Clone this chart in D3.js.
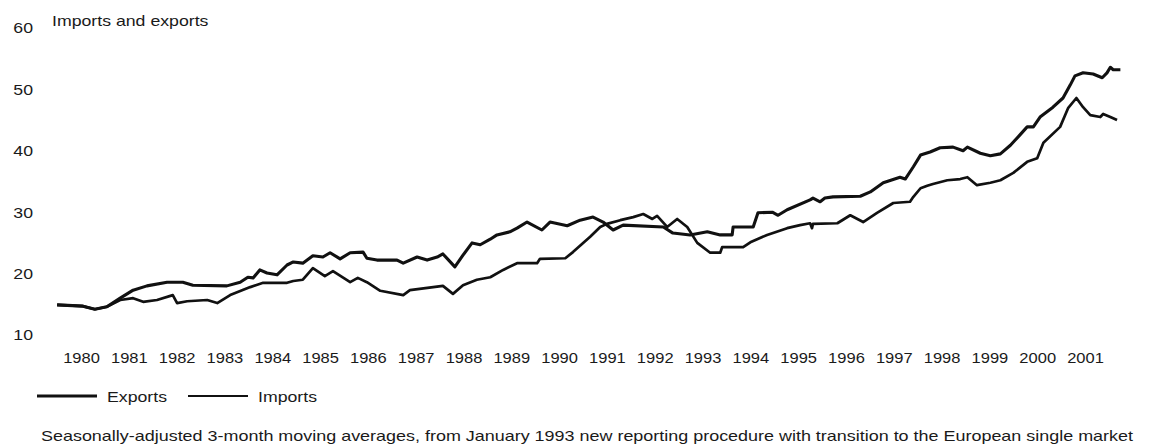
<!DOCTYPE html>
<html>
<head>
<meta charset="utf-8">
<script src="https://cdn.jsdelivr.net/npm/d3@7"></script>
<style>
	html, body { margin: 0; padding: 0; background: #fff; }
	svg { display: block; }
	text { font-family: 'Liberation Sans', Arial, sans-serif; fill: #1a1a1a; }
</style>
</head>
<body>
<svg id="chart" width="1151" height="445"></svg>
<script>
// [decimal year, value]
const exportsData = [
	[1979.50, 14.9], [1980.04, 14.7], [1980.29, 14.2], [1980.54, 14.6], [1980.82, 16.0], [1981.09, 17.3],
	[1981.38, 18.0], [1981.80, 18.6], [1982.13, 18.6], [1982.34, 18.1], [1983.05, 18.0], [1983.33, 18.6],
	[1983.49, 19.4], [1983.60, 19.3], [1983.74, 20.6], [1983.89, 20.1], [1984.10, 19.8], [1984.31, 21.4],
	[1984.44, 21.9], [1984.64, 21.7], [1984.85, 22.9], [1985.06, 22.7], [1985.21, 23.4], [1985.42, 22.4],
	[1985.63, 23.4], [1985.90, 23.5], [1985.98, 22.5], [1986.19, 22.2], [1986.61, 22.2], [1986.74, 21.7],
	[1987.03, 22.7], [1987.24, 22.2], [1987.45, 22.7], [1987.57, 23.2], [1987.82, 21.1], [1987.99, 23.0],
	[1988.18, 25.0], [1988.35, 24.7], [1988.56, 25.6], [1988.70, 26.3], [1988.97, 26.8], [1989.12, 27.4],
	[1989.33, 28.4], [1989.64, 27.1], [1989.81, 28.4], [1990.17, 27.8], [1990.44, 28.7], [1990.71, 29.2],
	[1990.92, 28.4], [1991.13, 27.1], [1991.34, 27.9], [1992.18, 27.6], [1992.38, 26.6], [1992.74, 26.3],
	[1993.10, 26.8], [1993.37, 26.3], [1993.62, 26.3], [1993.64, 27.6], [1994.06, 27.6], [1994.16, 29.9],
	[1994.46, 30.0], [1994.58, 29.5], [1994.77, 30.4], [1995.25, 32.0], [1995.31, 32.3], [1995.46, 31.7],
	[1995.56, 32.3], [1995.73, 32.5], [1996.30, 32.6], [1996.51, 33.3], [1996.78, 34.8], [1997.13, 35.7],
	[1997.24, 35.4], [1997.41, 37.4], [1997.56, 39.3], [1997.76, 39.8], [1997.97, 40.5], [1998.24, 40.6],
	[1998.45, 40.0], [1998.54, 40.6], [1998.81, 39.6], [1999.02, 39.2], [1999.23, 39.5], [1999.44, 40.9],
	[1999.64, 42.6], [1999.79, 43.9], [1999.92, 43.9], [2000.06, 45.5], [2000.33, 47.1], [2000.54, 48.6],
	[2000.69, 50.7], [2000.79, 52.2], [2000.96, 52.7], [2001.17, 52.5], [2001.36, 51.9], [2001.46, 52.7],
	[2001.53, 53.6], [2001.59, 53.2], [2001.74, 53.2]
]

const importsData = [
	[1979.50, 14.9], [1980.04, 14.7], [1980.29, 14.2], [1980.54, 14.6], [1980.82, 15.7], [1981.09, 16.0],
	[1981.30, 15.4], [1981.59, 15.7], [1981.92, 16.5], [1982.01, 15.2], [1982.22, 15.5], [1982.64, 15.7],
	[1982.85, 15.2], [1983.12, 16.5], [1983.54, 17.8], [1983.81, 18.5], [1984.31, 18.5], [1984.44, 18.8],
	[1984.64, 19.0], [1984.85, 20.9], [1985.10, 19.6], [1985.27, 20.4], [1985.63, 18.6], [1985.79, 19.3],
	[1985.98, 18.6], [1986.26, 17.2], [1986.74, 16.5], [1986.88, 17.3], [1987.57, 18.0], [1987.78, 16.7],
	[1987.99, 18.1], [1988.28, 19.0], [1988.56, 19.4], [1988.83, 20.6], [1989.12, 21.7], [1989.54, 21.7],
	[1989.60, 22.4], [1990.13, 22.5], [1990.29, 23.5], [1990.65, 26.0], [1990.86, 27.6], [1991.00, 28.1],
	[1991.28, 28.7], [1991.55, 29.2], [1991.76, 29.7], [1991.95, 28.9], [1992.05, 29.4], [1992.26, 27.6],
	[1992.47, 28.9], [1992.68, 27.6], [1992.89, 25.0], [1993.16, 23.4], [1993.37, 23.4], [1993.41, 24.3],
	[1993.85, 24.3], [1994.00, 25.1], [1994.35, 26.3], [1994.77, 27.4], [1995.04, 27.9], [1995.25, 28.2],
	[1995.29, 27.4], [1995.31, 28.1], [1995.82, 28.2], [1996.09, 29.5], [1996.36, 28.4], [1996.65, 29.9],
	[1996.99, 31.5], [1997.34, 31.7], [1997.41, 32.5], [1997.56, 33.9], [1997.70, 34.3], [1997.82, 34.6],
	[1998.12, 35.2], [1998.39, 35.4], [1998.54, 35.7], [1998.74, 34.4], [1999.02, 34.8], [1999.23, 35.2],
	[1999.50, 36.4], [1999.79, 38.2], [2000.00, 38.8], [2000.13, 41.3], [2000.48, 43.9], [2000.65, 47.0],
	[2000.82, 48.6], [2000.96, 47.1], [2001.11, 45.8], [2001.32, 45.5], [2001.38, 46.0], [2001.53, 45.5],
	[2001.67, 45.0]
]

const years = d3.range(1980, 2002)
const yTicks = [10, 20, 30, 40, 50, 60]
const titleText = 'Imports and exports'
const legendItems = [{ name: 'Exports', width: 3 }, { name: 'Imports', width: 2 }]
const noteText = 'Seasonally-adjusted 3-month moving averages, from January 1993 new reporting procedure with transition to the European single market'

const svg = d3.select('#chart')
const fontSize = 15
const stretchK = 1.18

// the scan is wider than the font, so widen every text a bit
const stretch = (sel, k) => sel.each(function () {
	const w = this.getComputedTextLength()
	d3.select(this).attr('textLength', w * k).attr('lengthAdjust', 'spacingAndGlyphs')
})

const x = d3.scaleLinear().domain([1980, 2001]).range([81, 1085])
const y = d3.scaleLinear().domain([10, 60]).range([335, 28])

const line = d3.line()
	.x((d) => x(d[0]))
	.y((d) => y(d[1]))

// y labels
const gY = svg.append('g').attr('transform', 'translate(33, 0)')
	.call(d3.axisLeft(y).tickValues(yTicks).tickSize(0).tickPadding(0))
gY.select('.domain').remove()
gY.selectAll('text')
	.style('font-family', null).attr('font-size', fontSize).style('fill', '#1a1a1a')
	.call(stretch, stretchK)

// year labels
const gX = svg.append('g').attr('transform', 'translate(0, 352)')
	.call(d3.axisBottom(x).tickValues(years).tickFormat(d3.format('d')).tickSize(0).tickPadding(0))
gX.select('.domain').remove()
gX.selectAll('text')
	.style('font-family', null).attr('font-size', fontSize).style('fill', '#1a1a1a')
	.call(stretch, 1.1)

svg.append('text')
	.attr('x', 52).attr('y', 26)
	.attr('font-size', fontSize)
	.text(titleText)
	.call(stretch, stretchK)

// series
svg.append('path').datum(importsData)
	.attr('d', line)
	.attr('fill', 'none').attr('stroke', '#111')
	.attr('stroke-width', 2.7).attr('stroke-linejoin', 'round')

svg.append('path').datum(exportsData)
	.attr('d', line)
	.attr('fill', 'none').attr('stroke', '#111')
	.attr('stroke-width', 3.1).attr('stroke-linejoin', 'round')

// legend
const gLegend = svg.append('g').attr('transform', 'translate(37, 396)')
const legendX = [0, 151]
const gItem = gLegend.selectAll('g').data(legendItems).enter().append('g')
	.attr('transform', (_, i) => `translate(${legendX[i]}, 0)`)
gItem.append('line')
	.attr('x1', 0).attr('x2', 60)
	.attr('stroke', '#111').attr('stroke-width', (d) => d.width)
gItem.append('text')
	.attr('x', 70).attr('y', 6)
	.attr('font-size', fontSize)
	.text((d) => d.name)
	.call(stretch, stretchK)

svg.append('text')
	.attr('x', 41).attr('y', 441)
	.attr('font-size', fontSize)
	.text(noteText)
	.attr('textLength', 1092).attr('lengthAdjust', 'spacingAndGlyphs')
</script>
</body>
</html>
